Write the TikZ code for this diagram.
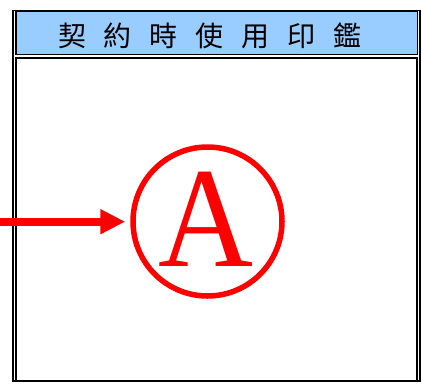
\documentclass[tikz,border=0pt]{standalone}
\usepackage{fontspec}
\setmainfont{Liberation Serif}
\newfontfamily\cjk{Noto Sans CJK TC}
\usetikzlibrary{arrows.meta}
\definecolor{hdrblue}{HTML}{99CCFF}
\definecolor{stampred}{HTML}{FF0000}
\tikzset{
  frame/.style={draw=black, line width=1.8pt},
  cell/.style={draw=black, line width=1.5pt},
  stampline/.style={draw=stampred, line width=5.5pt},
}
\begin{document}
\begin{tikzpicture}[x=1pt,y=-1pt]
\useasboundingbox (0,0) rectangle (422,383);
% outer frame
\draw[frame] (13,10.5) rectangle (420.3,381.2);
% header cell
\draw[cell, fill=hdrblue] (15.8,11.5) rectangle (417.6,54.3);
% body cell
\draw[cell] (15.8,57.8) rectangle (417.2,380.3);
% header text
\node[inner sep=0pt, anchor=center] (title) at (210,35.5)
  {\cjk\fontsize{28}{28}\selectfont 契\hspace{18pt}約\hspace{18pt}時\hspace{18pt}使\hspace{18pt}用\hspace{18pt}印\hspace{18pt}鑑};
% stamp
\node[circle, stampline, minimum size=149pt, inner sep=0pt] (stamp) at (207.5,221.5) {};
\node[inner sep=0pt, text=stampred, anchor=center] (letter) at (206,219)
  {\fontsize{143}{143}\selectfont\scalebox{0.92}[1]{A}};
% arrow
\coordinate (start) at (0,221.7);
\draw[stampred, line width=8pt, -{Triangle[length=25pt, width=23.5pt]}]
  (start) -- ([xshift=-5pt]stamp.west |- start);
\end{tikzpicture}
\end{document}
